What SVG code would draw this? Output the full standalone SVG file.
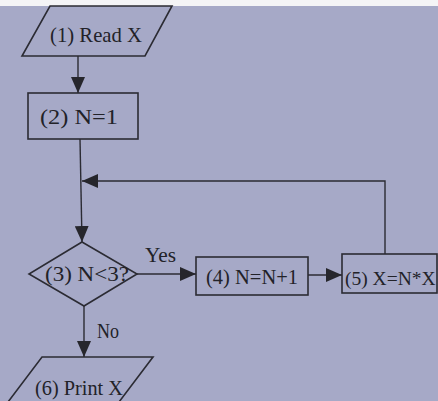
<svg xmlns="http://www.w3.org/2000/svg" width="438" height="401" viewBox="0 0 438 401">
<style>
.shape{fill:none;stroke:#2b2b33;stroke-width:1.6}
.line{fill:none;stroke:#2b2b33;stroke-width:1.4}
.lbl{font-family:"Liberation Serif","Times New Roman",serif;font-size:22px;fill:#222228}
.mid{text-anchor:middle}
</style>
<defs>
<marker id="ah" markerWidth="16" markerHeight="14" refX="16" refY="7" orient="auto" markerUnits="userSpaceOnUse">
<path d="M0,0 L16,7 L0,14 Z" fill="#26262c"/>
</marker>
</defs>
<rect width="438" height="401" fill="#a6a9c7"/>
<rect width="438" height="6" fill="#f4f4f6"/>
<g id="connectors">
<line class="line" x1="78" y1="56" x2="78" y2="93" marker-end="url(#ah)"/>
<line class="line" x1="80" y1="139" x2="82" y2="242" marker-end="url(#ah)"/>
<polyline class="line" points="385,254 385,181 82,181" marker-end="url(#ah)"/>
<line class="line" x1="137" y1="274" x2="196" y2="274" marker-end="url(#ah)"/>
<line class="line" x1="308" y1="275" x2="342" y2="275" marker-end="url(#ah)"/>
<line class="line" x1="84" y1="306" x2="84" y2="357" marker-end="url(#ah)"/>
<text class="lbl" x="145" y="262" textLength="31" lengthAdjust="spacingAndGlyphs">Yes</text>
<text class="lbl" x="97" y="338" textLength="22" lengthAdjust="spacingAndGlyphs">No</text>
</g>
<g id="node1">
<polygon class="shape" points="50,6 172,6 145,56 22,56"/>
<text class="lbl mid" x="96" y="42" textLength="92" lengthAdjust="spacingAndGlyphs">(1) Read X</text>
</g>
<g id="node2">
<rect class="shape" x="28" y="93" width="110" height="46"/>
<text class="lbl mid" x="79" y="124" textLength="78" lengthAdjust="spacingAndGlyphs">(2)  N=1</text>
</g>
<g id="node3">
<polygon class="shape" points="82,242 137,274 84,306 29,274"/>
<text class="lbl mid" x="87" y="281" textLength="84" lengthAdjust="spacingAndGlyphs">(3) N&lt;3?</text>
</g>
<g id="node4">
<rect class="shape" x="196" y="257" width="112" height="38"/>
<text class="lbl mid" x="252" y="284" textLength="92" lengthAdjust="spacingAndGlyphs">(4) N=N+1</text>
</g>
<g id="node5">
<rect class="shape" x="342" y="254" width="95" height="39"/>
<text class="lbl" x="345" y="285" style="font-size:19.5px">(5) X=N*X</text>
</g>
<g id="node6">
<polygon class="shape" points="42,357 153,357 119,402 8,402"/>
<text class="lbl mid" x="79" y="395" textLength="88" lengthAdjust="spacingAndGlyphs">(6) Print X</text>
</g>
</svg>
